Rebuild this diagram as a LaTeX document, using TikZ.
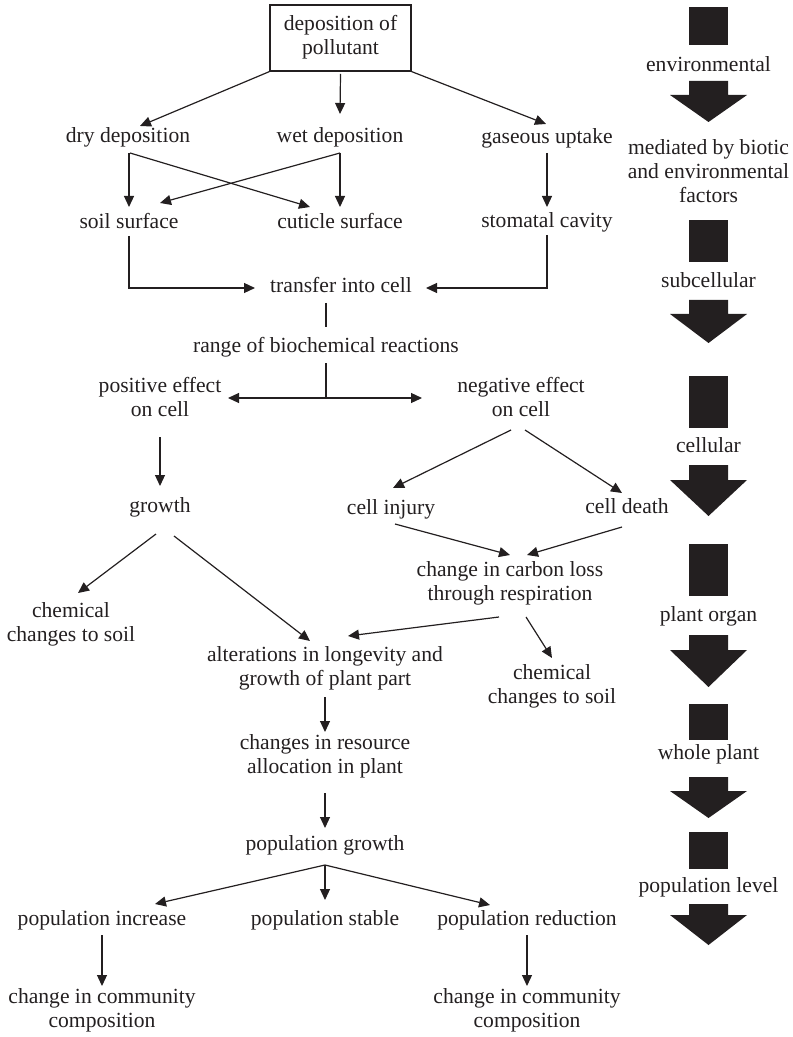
\documentclass[tikz,border=0pt]{standalone}
\usepackage{fontspec}
\setmainfont{Liberation Serif}
\usetikzlibrary{arrows.meta,calc}
\definecolor{ink}{RGB}{35,31,32}
\newcommand\levelarrow[3]{\fill[ink] (689,#1) -- (728,#1) -- (728,#2) -- (747,#2) -- (708.5,#3) -- (670,#2) -- (689,#2) -- cycle;}
\tikzset{
  lbl/.style={inner sep=0pt, align=center, font=\fontsize{10.8}{12}\selectfont, text=ink,
    execute at begin node=\strut, execute at end node=\strut},
  conn/.style={draw=ink, line width=0.6pt, -{Triangle[length=5.5pt,width=5pt]}},
  link/.style={draw=ink, line width=0.6pt},
  boxed/.style={lbl, draw=ink, line width=0.6pt, minimum width=70.5pt, minimum height=33pt},
  levelsq/.style={fill=ink}
}
\begin{document}
\begin{tikzpicture}[x=0.5pt,y=-0.5pt]
\useasboundingbox (0,0) rectangle (792,1037);
% ---- main flow nodes ----
\node[boxed] (top) at (340.5,38) {deposition of\\pollutant};
\node[lbl] (dry) at (128,138) {dry deposition};
\node[lbl] (wet) at (340,138) {wet deposition};
\node[lbl] (gas) at (547,139) {gaseous uptake};
\node[lbl] (soil) at (129,224) {soil surface};
\node[lbl] (cut) at (340,224) {cuticle surface};
\node[lbl] (stom) at (547,223) {stomatal cavity};
\node[lbl] (transfer) at (341,288) {transfer into cell};
\node[lbl] (range) at (326,348) {range of biochemical reactions};
\node[lbl] (pos) at (160,400) {positive effect\\on cell};
\node[lbl] (neg) at (521,400) {negative effect\\on cell};
\node[lbl] (growth) at (160,508) {growth};
\node[lbl] (injury) at (391,510) {cell injury};
\node[lbl] (death) at (627,509) {cell death};
\node[lbl] (carbon) at (510,585) {change in carbon loss\\through respiration};
\node[lbl] (chemL) at (71,626) {chemical\\changes to soil};
\node[lbl] (alter) at (325,670) {alterations in longevity and\\growth of plant part};
\node[lbl] (chemR) at (552,688) {chemical\\changes to soil};
\node[lbl] (resource) at (325,758) {changes in resource\\allocation in plant};
\node[lbl] (popgrowth) at (325,846) {population growth};
\node[lbl] (inc) at (102,921) {population increase};
\node[lbl] (stable) at (325,921) {population stable};
\node[lbl] (red) at (527,921) {population reduction};
\node[lbl] (commL) at (102,1012) {change in community\\composition};
\node[lbl] (commR) at (527,1012) {change in community\\composition};
% ---- connectors ----
\draw[conn] (top.south west) -- ($(dry)+(12,-12)$);
\draw[conn] ($(top)+(0,36)$) -- ($(wet)+(0,-24)$);
\draw[conn] (top.south east) -- ($(gas)+(-1,-15)$);
\draw[conn] ($(dry)+(1,15)$) -- ($(soil)+(0,-17)$);
\draw[conn] ($(dry)+(2,15)$) -- ($(cut)+(-30,-17)$);
\draw[conn] ($(wet)+(0,15)$) -- ($(cut)+(0,-17)$);
\draw[conn] ($(wet)+(0,15)$) -- ($(soil)+(31,-21)$);
\draw[conn] ($(gas)+(0,14)$) -- ($(stom)+(0,-16)$);
\draw[conn] ($(soil)+(0,12)$) |- ($(transfer)+(-86,0)$);
\draw[conn] ($(stom)+(0,12)$) |- ($(transfer)+(85,0)$);
\draw[link] ($(transfer)+(-15,15)$) -- ($(range)+(0,-21)$);
\coordinate (split) at ($(range)+(0,50)$);
\draw[link] ($(range)+(0,15)$) -- (split);
\draw[conn] (split) -- ($(pos)+(68,-2)$);
\draw[conn] (split) -- ($(neg)+(-99,-2)$);
\draw[conn] ($(pos)+(0,37)$) -- ($(growth)+(0,-22)$);
\draw[conn] ($(neg)+(-10,30)$) -- ($(injury)+(2,-22)$);
\draw[conn] ($(neg)+(4,30)$) -- ($(death)+(-5,-16)$);
\draw[conn] ($(injury)+(4,14)$) -- ($(carbon)+(0,-30)$);
\draw[conn] ($(death)+(-5,18)$) -- ($(carbon)+(17,-30)$);
\draw[conn] ($(carbon)+(-11,32)$) -- ($(alter)+(23,-34)$);
\draw[conn] ($(carbon)+(16,32)$) -- ($(chemR)+(0,-30)$);
\draw[conn] ($(growth)+(-4,26)$) -- ($(chemL)+(7,-33)$);
\draw[conn] ($(growth)+(14,28)$) -- ($(alter)+(-15,-29)$);
\draw[conn] ($(alter)+(0,27)$) -- ($(resource)+(0,-26)$);
\draw[conn] ($(resource)+(0,35)$) -- ($(popgrowth)+(0,-18)$);
\draw[conn] ($(popgrowth)+(0,19)$) -- ($(inc)+(53,-17)$);
\draw[conn] ($(popgrowth)+(0,19)$) -- ($(stable)+(0,-21)$);
\draw[conn] ($(popgrowth)+(0,19)$) -- ($(red)+(-37,-16)$);
\draw[conn] ($(inc)+(0,14)$) -- ($(commL)+(0,-26)$);
\draw[conn] ($(red)+(0,14)$) -- ($(commR)+(0,-26)$);
% ---- right-hand level column ----
\fill[levelsq] (689,7) rectangle (728,45);
\node[lbl] (lenv) at (708.5,67) {environmental};
\levelarrow{81}{95}{122}
\node[lbl] (lmed) at (708.5,175) {mediated by biotic\\and environmental\\factors};
\fill[levelsq] (689,220) rectangle (728,262);
\node[lbl] (lsub) at (708.5,283) {subcellular};
\levelarrow{300}{314}{343}
\fill[levelsq] (689,376) rectangle (728,428);
\node[lbl] (lcel) at (708.5,448) {cellular};
\levelarrow{465}{480}{516}
\fill[levelsq] (689,544) rectangle (728,596);
\node[lbl] (lorg) at (708.5,617) {plant organ};
\levelarrow{635}{650}{687}
\fill[levelsq] (689,704) rectangle (728,740);
\node[lbl] (lwho) at (708.5,755) {whole plant};
\levelarrow{777}{791}{818}
\fill[levelsq] (689,832) rectangle (728,869);
\node[lbl] (lpop) at (708.5,888) {population level};
\levelarrow{904}{915}{945}
\end{tikzpicture}
\end{document}
